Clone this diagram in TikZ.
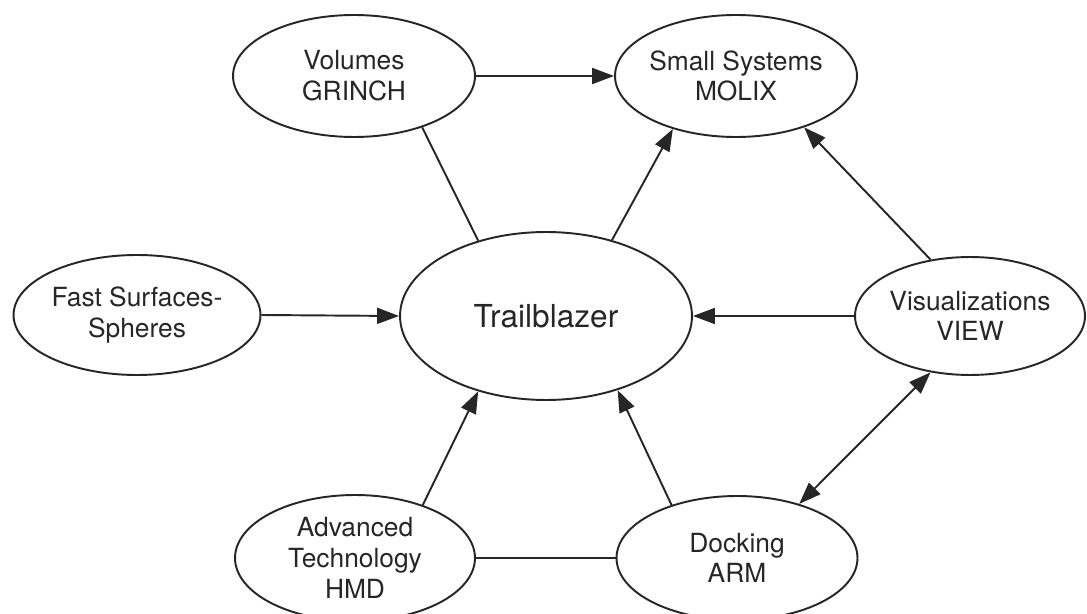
\documentclass[tikz,border=0pt]{standalone}
\usepackage{fontspec}
\setmainfont{TeX Gyre Heros}
\usetikzlibrary{shapes.geometric, arrows.meta}

\begin{document}
\begin{tikzpicture}[x=0.02cm, y=-0.02cm, line width=1.1pt, color=black!85,
	font=\fontsize{15}{17.5}\selectfont, >={Triangle[length=0.44cm, width=0.32cm]}]
	\tikzstyle{topic} = [ellipse, draw, inner sep=0pt]
	\useasboundingbox (0,0) rectangle (1087,614);
	\node [topic, minimum width=4.84cm, minimum height=2.44cm, label={[align=center]center:Volumes\\GRINCH}] (vol) at (354,76) {};
	\node [topic, minimum width=4.84cm, minimum height=2.44cm, label={[align=center]center:Small Systems\\MOLIX}] (sms) at (736,76) {};
	\node [topic, minimum width=4.94cm, minimum height=2.40cm, label={[align=center]center:Fast Surfaces-\\Spheres}] (fss) at (137,315) {};
	\node [topic, minimum width=5.84cm, minimum height=3.36cm, label={[font=\fontsize{18}{20}\selectfont]center:Trailblazer}] (tb) at (546,316) {};
	\node [topic, minimum width=4.60cm, minimum height=2.36cm, label={[align=center]center:Visualizations\\VIEW}] (view) at (970,316) {};
	\node [topic, minimum width=4.80cm, minimum height=2.52cm, label={[align=center]center:Advanced\\Technology\\HMD}] (hmd) at (355,558) {};
	\node [topic, minimum width=4.82cm, minimum height=2.48cm, label={[align=center]center:Docking\\ARM}] (dock) at (737,558) {};
	\draw [->] (vol.east)--(sms.west);
	\draw (vol.-37)--(tb.132);
	\draw [->] (tb.49)--(sms.220);
	\draw [->] (view.125)--(sms.-37);
	\draw [->] (fss.east)--(tb.west);
	\draw [->] (view.west)--(tb.east);
	\draw [<->] (view.235)--(dock.41);
	\draw [->] (hmd.38)--(tb.228);
	\draw [->] (dock.141)--(tb.-46);
	\draw (hmd.east)--(dock.west);
\end{tikzpicture}
\end{document}
